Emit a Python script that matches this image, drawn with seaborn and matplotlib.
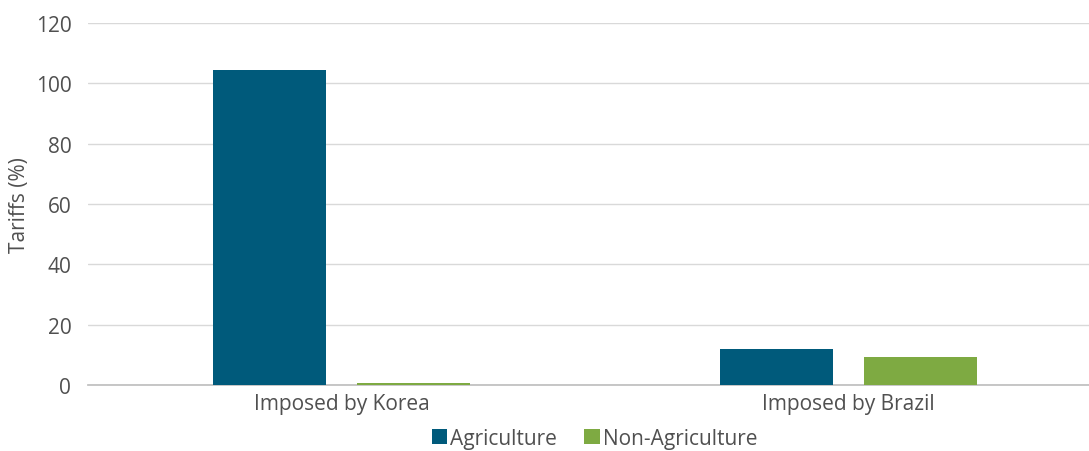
import pandas as pd
import matplotlib
matplotlib.use("Agg")
import matplotlib.pyplot as plt
import seaborn as sns

# Données
categories = ["Imposed by Korea", "Imposed by Brazil"]
agriculture = [104.5, 12.0]
non_agriculture = [0.7, 9.3]
series = ["Agriculture", "Non-Agriculture"]
colors = ["#005A7B", "#7EAA42"]

df = pd.DataFrame({
    "cat": categories * 2,
    "val": agriculture + non_agriculture,
    "serie": [series[0]] * 2 + [series[1]] * 2,
})

sns.set_theme(style="white")
plt.rcParams["font.family"] = ["Open Sans", "DejaVu Sans"]
txt = "#505050"

fig = plt.figure(figsize=(10.89, 4.52), dpi=100)
ax = fig.add_axes([88 / 1089, 0.146, 1014 / 1089, 0.801])
sns.barplot(data=df, x="cat", y="val", hue="serie", palette=colors,
            width=0.57, gap=0.22, ax=ax, saturation=1, linewidth=0, zorder=3)

ax.set_ylim(0, 120)
ax.set_yticks(range(0, 121, 20))
ax.yaxis.grid(True, color="#d9d9d9", linewidth=1)
ax.set_axisbelow(True)
for s in ["left", "right", "top"]:
    ax.spines[s].set_visible(False)
ax.spines["bottom"].set_color("#bfbfbf")
ax.spines["bottom"].set_zorder(2)
ax.tick_params(axis="both", length=0, labelsize=15, colors=txt)
ax.tick_params(axis="y", pad=12)
ax.tick_params(axis="x", pad=6)
ax.set_xlabel("")
ax.set_ylabel("Tariffs (%)", fontsize=15, color=txt, labelpad=4)

ax.legend_.remove()
handles, labels = ax.get_legend_handles_labels()
fig.legend(handles, labels, loc="center", bbox_to_anchor=(0.546, 0.028), ncol=2,
           frameon=False, fontsize=15, labelcolor=txt, handlelength=0.75,
           handleheight=0.75, handletextpad=0.15, columnspacing=1.3)

fig.savefig("out.png", dpi=100)
